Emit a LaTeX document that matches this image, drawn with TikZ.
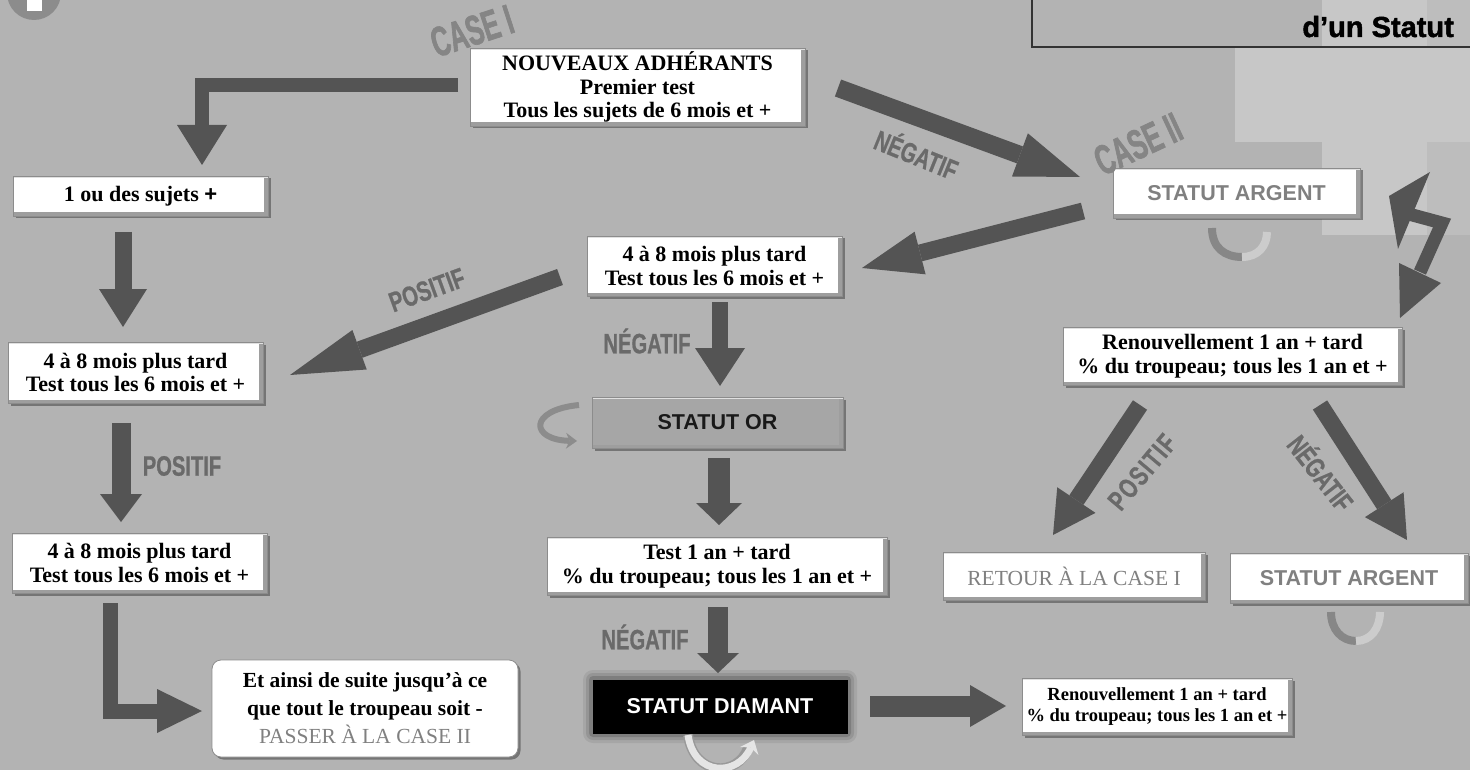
\documentclass[tikz,border=0pt]{standalone}
\usepackage{fontspec}
\setmainfont{Liberation Serif}
\newfontfamily\arialf{Liberation Sans}
\newfontfamily\blackf{Liberation Sans}[BoldFeatures={FakeBold=1.6}]
\newfontfamily\condf{Liberation Sans}[FakeStretch=0.72, BoldFeatures={FakeBold=0.8}]
\newfontfamily\condsp{Liberation Sans}[FakeStretch=0.72, LetterSpace=6, BoldFeatures={FakeBold=0.8}]
\newfontfamily\casef{Liberation Sans}[FakeStretch=0.6, BoldFeatures={FakeBold=1.5}]
\usetikzlibrary{arrows.meta,shadows,calc}
\definecolor{bgc}{HTML}{B3B3B3}
\definecolor{lightbg}{HTML}{C7C7C7}
\definecolor{midbg}{HTML}{BDBDBD}
\definecolor{arrc}{HTML}{545454}
\definecolor{lblc}{HTML}{6A6A6A}
\definecolor{greytxt}{HTML}{808080}
\definecolor{orc}{HTML}{A6A6A6}
\definecolor{casec}{HTML}{858585}
\newcommand{\bxfont}{\bfseries\fontsize{22}{23.5}\selectfont}
\newcommand{\sfbig}{\arialf\bfseries\fontsize{21.5}{24}\selectfont}
\newcommand{\lblfont}{\condf\bfseries\fontsize{28}{30}\selectfont}
\newcommand{\casefont}{\casef\bfseries\fontsize{42}{44}\selectfont}
\begin{document}
\begin{tikzpicture}[x=1pt,y=-1pt,
  bx/.style={draw=black!45, line width=0.8pt, fill=white, inner sep=0pt, align=center,
    font=\bxfont,
    drop shadow={shadow xshift=2.5pt, shadow yshift=-2.5pt, fill=black!70, opacity=0.6},
    path picture={
      \fill[black!38] ([xshift=-4pt]path picture bounding box.north east) rectangle (path picture bounding box.south east);
      \fill[black!38] (path picture bounding box.south west) rectangle ([yshift=3.5pt]path picture bounding box.south east);
      \fill[black!12] (path picture bounding box.north west) rectangle ([yshift=-2pt]path picture bounding box.north east);
    }},
  barr/.style n args={3}{draw=arrc, line width=#1, line join=miter,
    -{Triangle[width=#2,length=#3,line width=0pt]}},
  lbl/.style={font=\lblfont, text=lblc, inner sep=0pt},
  casel/.style={font=\casefont, inner sep=0pt, text=casec}
]
% background
\fill[bgc] (0,0) rectangle (1470,770);
\useasboundingbox (0,0) rectangle (1470,770);
\fill[midbg] (1322,0) rectangle (1470,47);
\fill[lightbg] (1322,0) rectangle (1427,47);
\fill[lightbg] (1235,47) rectangle (1470,142);
\fill[midbg] (1427,142) rectangle (1470,235);
\fill[lightbg] (1322,142) rectangle (1427,235);
% title box
\draw[black!80, line width=1.5pt] (1032,-5) -- (1032,47) -- (1475,47);
\node[font=\blackf\bfseries\fontsize{29}{32}\selectfont, anchor=base east, inner sep=0pt] (title) at (1454,37) {d’un Statut};
% info icon
\fill[black!45] (34,-7) circle (27pt);
\fill[white] (27,-5) rectangle (42,11);

% boxes
\node[bx, minimum width=335pt, minimum height=78pt] (nouv) at (637.5,87) {NOUVEAUX ADHÉRANTS\\Premier test\\Tous les sujets de 6 mois et +};
\node[bx, minimum width=255pt, minimum height=40pt] (suj) at (140.5,196) {1 ou des sujets {\arialf\bfseries +}};
\node[bx, minimum width=255pt, minimum height=61pt] (lb2) at (135.5,372.5) {4 à 8 mois plus tard\\Test tous les 6 mois et +};
\node[bx, minimum width=255pt, minimum height=60pt] (lb3) at (139.5,563) {4 à 8 mois plus tard\\Test tous les 6 mois et +};
\node[bx, rounded corners=9pt, path picture={}, minimum width=306pt, minimum height=97pt, font=\bfseries\fontsize{21.5}{28}\selectfont] (suite) at (365,708.5) {Et ainsi de suite jusqu’à ce\\que tout le troupeau soit -\\{\mdseries\color{greytxt}PASSER À LA CASE II}};
\node[bx, minimum width=255pt, minimum height=60pt] (mid) at (714.5,266) {4 à 8 mois plus tard\\Test tous les 6 mois et +};
\node[bx, fill=orc, minimum width=251pt, minimum height=51pt, font=\sfbig, text=black!90] (or) at (717.5,422.5) {STATUT OR};
\node[bx, minimum width=340pt, minimum height=58pt] (test) at (717,566) {Test 1 an + tard\\\% du troupeau; tous les 1 an et +};
% diamant glow
\foreach \g/\o in {10/0.07, 7/0.1, 4/0.15} {
  \fill[black, opacity=\o, rounded corners=\g pt] ({593-\g},{680-\g}) rectangle ({847+\g},{733+\g});
}
\node[fill=black, draw=black, inner sep=0pt, minimum width=254pt, minimum height=53pt, font=\sfbig, text=white] (diam) at (720,706.5) {STATUT DIAMANT};
\node[bx, minimum width=270pt, minimum height=57pt, font=\bfseries\fontsize{18.5}{21.5}\selectfont] (renb) at (1157,706.5) {Renouvellement 1 an + tard\\\% du troupeau; tous les 1 an et +};
\node[bx, minimum width=247pt, minimum height=50pt, font=\sfbig, text=greytxt] (arg1) at (1236.5,193) {STATUT ARGENT};
\node[bx, minimum width=339pt, minimum height=58pt] (renr) at (1232.5,356) {Renouvellement 1 an + tard\\\% du troupeau; tous les 1 an et +};
\node[bx, minimum width=262pt, minimum height=48pt, font=\fontsize{21.5}{23}\selectfont, text=greytxt] (ret) at (1074,576) {RETOUR À LA CASE I};
\node[bx, minimum width=238pt, minimum height=50pt, font=\sfbig, text=greytxt] (arg2) at (1349,578) {STATUT ARGENT};

% arrow end points
\coordinate (a1s) at (458,85);   \coordinate (a1e) at (202,165);
\coordinate (a2s) at (123,232);  \coordinate (a2e) at (123,327);
\coordinate (a3s) at (121,423);  \coordinate (a3e) at (121,522);
\coordinate (a4s) at (110,603);  \coordinate (a4e) at (202,711);
\coordinate (a5s) at (560,277);  \coordinate (a5e) at (290,375);
\coordinate (a6s) at (838,88);   \coordinate (a6e) at (1080,177);
\coordinate (a7s) at (1083,211); \coordinate (a7e) at (862,268);
\coordinate (a8s) at (720,302);  \coordinate (a8e) at (720,386);
\coordinate (a9s) at (719,458);  \coordinate (a9e) at (719,525);
\coordinate (a10s) at (718,607); \coordinate (a10e) at (718,673);
\coordinate (a11s) at (870,706); \coordinate (a11e) at (1006,706);
\coordinate (a12s) at (1140,405); \coordinate (a12e) at (1053,535);
\coordinate (a13s) at (1320,405); \coordinate (a13e) at (1407,540);

% arrows
\draw[barr={14pt}{50pt}{40pt}] (a1s) -| (a1e);
\draw[barr={17pt}{48pt}{38pt}] (a2s) -- (a2e);
\draw[barr={19pt}{42pt}{28pt}] (a3s) -- (a3e);
\draw[barr={15pt}{44pt}{45pt}] (a4s) |- (a4e);
\draw[barr={17pt}{42pt}{74pt}] (a5s) -- (a5e);
\draw[barr={18pt}{46pt}{64pt}] (a6s) -- (a6e);
\draw[barr={17pt}{44pt}{60pt}] (a7s) -- (a7e);
\draw[barr={16pt}{50pt}{38pt}] (a8s) -- (a8e);
\draw[barr={22pt}{46pt}{22pt}] (a9s) -- (a9e);
\draw[barr={20pt}{42pt}{20pt}] (a10s) -- (a10e);
\draw[barr={21pt}{42pt}{36pt}] (a11s) -- (a11e);
\draw[barr={17pt}{46pt}{42pt}] (a12s) -- (a12e);
\draw[barr={17pt}{46pt}{42pt}] (a13s) -- (a13e);
% zigzag double arrow
\fill[arrc] (1430,172) -- (1389,196) -- (1398,249) -- cycle;
\draw[arrc, line width=13pt, line join=miter] (1405,213) -- (1442,223) -- (1420,272);
\fill[arrc] (1399,263) -- (1441,283) -- (1400,318) -- cycle;

% curved decorations
\draw[black!45, line width=6pt, -{Stealth[length=11pt,width=16pt,line width=0pt]}] (579,405) .. controls (528,410) and (530,440) .. (577,441);
\draw[black!40, line width=10pt] (688,735) .. controls (694,777) and (738,777) .. (748,748);
\draw[black!10, line width=7pt, -{Stealth[length=12pt,width=20pt,line width=0pt]}] (688,735) .. controls (694,777) and (738,777) .. (754,740);
\draw[black!47, line width=8pt] (1212,228) .. controls (1212,248) and (1225,257) .. (1242,257);
\draw[black!20, line width=8pt] (1242,257) .. controls (1258,257) and (1267,246) .. (1267,232);
\draw[black!47, line width=8pt] (1331,612) .. controls (1331,630) and (1342,641) .. (1356,641);
\draw[black!20, line width=8pt] (1356,641) .. controls (1371,641) and (1380,628) .. (1380,612);

% labels
\node[lbl, rotate=-22] (ln1) at (917,153) {NÉGATIF};
\node[lbl, rotate=20] (lp1) at (427,290) {POSITIF};
\node[lbl] (lp2) at (182,466) {POSITIF};
\node[lbl] (ln2) at (647,341) {NÉGATIF};
\node[lbl] (ln3) at (645,637) {NÉGATIF};
\node[lbl, rotate=50, font=\condsp\bfseries\fontsize{28}{30}\selectfont] (lp3) at (1142,472) {POSITIF};
\node[lbl, rotate=-52] (ln4) at (1322,472) {NÉGATIF};
\node[casel, rotate=18] (c1) at (472,31) {CASE I};
\node[casel, rotate=25] (c2) at (1138,144) {CASE II};
\end{tikzpicture}
\end{document}
